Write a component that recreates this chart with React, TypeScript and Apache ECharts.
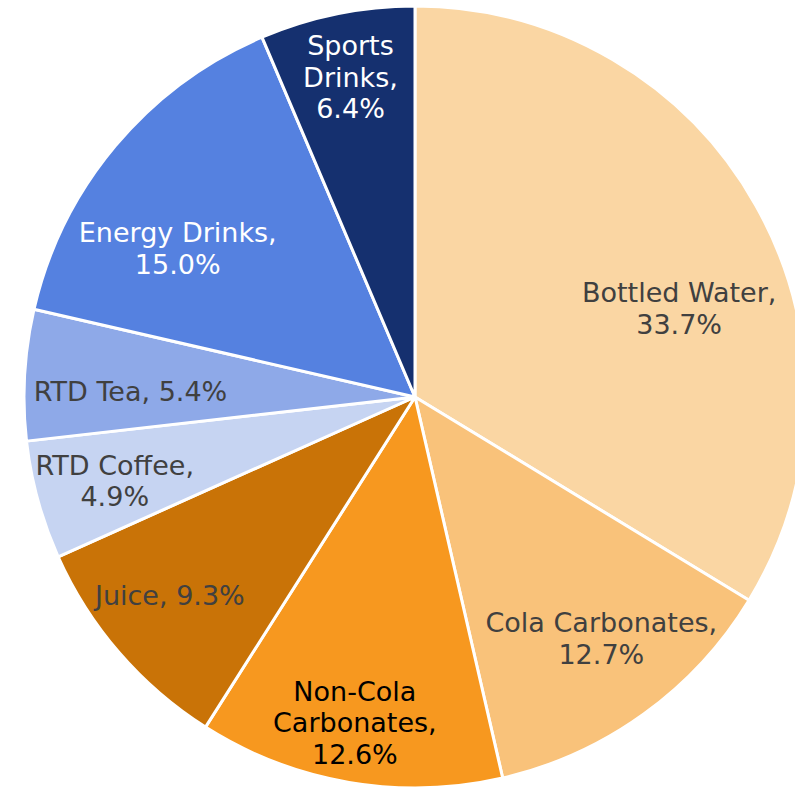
import React, { useEffect, useRef } from "react";
import * as echarts from "echarts";

const categories = [
  "Bottled Water",
  "Cola Carbonates",
  "Non-Cola\nCarbonates",
  "Juice",
  "RTD Coffee",
  "RTD Tea",
  "Energy Drinks",
  "Sports\nDrinks",
];
const shares = [33.7, 12.7, 12.6, 9.3, 4.9, 5.4, 15.0, 6.4];
const sliceColors = [
  "#FAD6A3",
  "#F9C27A",
  "#F7981F",
  "#C97307",
  "#C6D4F2",
  "#8EA9E8",
  "#5581E0",
  "#15306F",
];
const labelColors = [
  "#404040",
  "#404040",
  "#000000",
  "#404040",
  "#404040",
  "#404040",
  "#FFFFFF",
  "#FFFFFF",
];
// label text separators (comma then line break or space)
const labelSeparators = ["\n", "\n", "\n", " ", "\n", " ", "\n", "\n"];
// nudges to mimic Excel's best-fit label placement
const labelNudges: [number, number][] = [
  [0, 60],
  [9, -4],
  [-9, 27],
  [-16, 0],
  [-8, 4],
  [18, 12],
  [-5, 46],
  [-4, -23],
];

export default function App() {
  const ref = useRef<HTMLDivElement>(null);
  useEffect(() => {
    if (!ref.current) return;
    const chart = echarts.init(ref.current, undefined, { renderer: "svg" });
    const center = [415, 397];
    const R = 391;
    const pieData = categories.map((c, i) => ({
      name: c,
      value: shares[i],
      itemStyle: { color: sliceColors[i] },
    }));
    const labelData = categories.map((c, i) => ({
      name: c,
      value: shares[i],
      label: {
        color: labelColors[i],
        offset: labelNudges[i],
        formatter: () =>
          `${c},${labelSeparators[i]}${shares[i].toFixed(1)}%`,
      },
    }));
    chart.setOption({
      animation: false,
      backgroundColor: "#FFFFFF",
      series: [
        {
          type: "pie",
          center,
          radius: [0, R],
          startAngle: 90,
          clockwise: true,
          silent: true,
          data: pieData,
          itemStyle: { borderColor: "#FFFFFF", borderWidth: 3 },
          label: { show: false },
          labelLine: { show: false },
        },
        {
          type: "pie",
          center,
          radius: [209, R],
          startAngle: 90,
          clockwise: true,
          silent: true,
          z: 5,
          data: labelData,
          itemStyle: { color: "rgba(0,0,0,0)", borderWidth: 0 },
          label: {
            show: true,
            position: "inside",
            fontFamily: "DejaVu Sans, Verdana, sans-serif",
            fontSize: 27,
            lineHeight: 31.5,
            align: "center",
          },
          labelLine: { show: false },
        },
      ],
    });
    return () => chart.dispose();
  }, []);
  return (
    <div
      ref={ref}
      style={{ position: "absolute", left: 0, top: 0, width: 795, height: 788 }}
    />
  );
}
